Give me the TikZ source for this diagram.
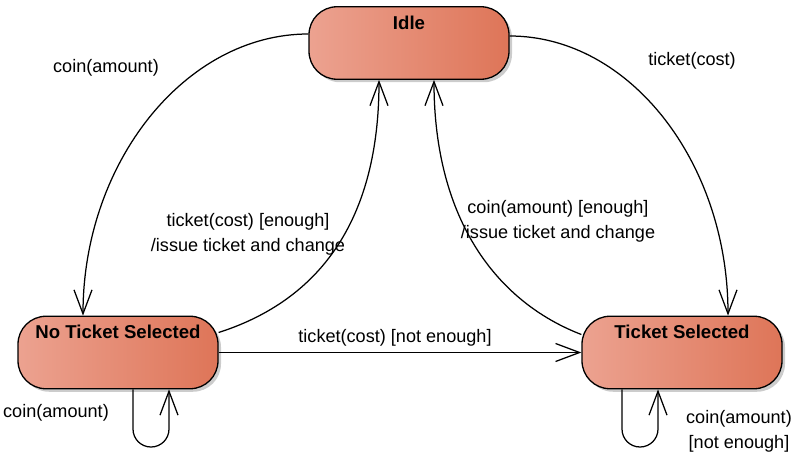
\documentclass[tikz,border=0pt]{standalone}
\usepackage{fontspec}
\setmainfont{Liberation Sans}
\usetikzlibrary{arrows.meta,shadows,calc}
\definecolor{stL}{RGB}{236,162,144}
\definecolor{stR}{RGB}{222,117,88}
\begin{document}
\begin{tikzpicture}[x=1pt,y=-1pt,
  state/.style={draw=black, line width=1.3pt, rounded corners=28pt,
    left color=stL, right color=stR, minimum width=200pt, inner sep=0pt,
    text height=22.5pt, text depth=50pt,
    font=\fontsize{18.6}{20}\selectfont\bfseries,
    drop shadow={shadow xshift=3pt, shadow yshift=-3pt, fill=black, opacity=0.2}},
  conn/.style={line width=1.25pt, -{Straight Barb[length=24pt,width=18pt]}},
  lab/.style={font=\fontsize{18.1}{25}\selectfont, align=center, inner sep=0pt}]
\useasboundingbox (0,0) rectangle (798,468);

\node[state] (idle) at (409,43) {Idle};
\node[state] (nts) at (118,352.5) {No Ticket Selected};
\node[state] (ts) at (682,352.5) {Ticket Selected};

\draw[conn] ([yshift=9pt]idle.west) .. controls (185,34) and (83,163) .. ([xshift=-35pt]nts.north);
\draw[conn] ([yshift=7pt]idle.east) .. controls (630,36) and (728,163) .. ([xshift=46pt]ts.north);
\draw[conn] ([yshift=20pt]nts.east) .. controls (320,300) and (379,220) .. ([xshift=-30pt]idle.south);
\draw[conn] ([yshift=18pt]ts.west) .. controls (497,302) and (434,220) .. ([xshift=25pt]idle.south);
\draw[conn] (nts.east) -- (ts.west);

\draw[conn] ([xshift=15pt]nts.south) -- (133,429) .. controls (133,439) and (141,447) .. (151,447)
  .. controls (161,447) and (169,439) .. (169,429) -- ([xshift=51pt]nts.south);
\draw[conn] ([xshift=-60pt]ts.south) -- (622,429) .. controls (622,439) and (630,447) .. (640,447)
  .. controls (650,447) and (658,439) .. (658,429) -- ([xshift=-24pt]ts.south);

\node[lab] (l1) at (106,68) {coin(amount)};
\node[lab] (l2) at (692,61) {ticket(cost)};
\node[lab] (l3) at (248,234.5) {ticket(cost) [enough]\\/issue ticket and change};
\node[lab] (l4) at (558,221) {coin(amount) [enough]\\/issue ticket and change};
\node[lab] (l5) at (395,338) {ticket(cost) [not enough]};
\node[lab] (l6) at (56,413) {coin(amount)};
\node[lab] (l7) at (739,431) {coin(amount)\\{}[not enough]};
\end{tikzpicture}
\end{document}
